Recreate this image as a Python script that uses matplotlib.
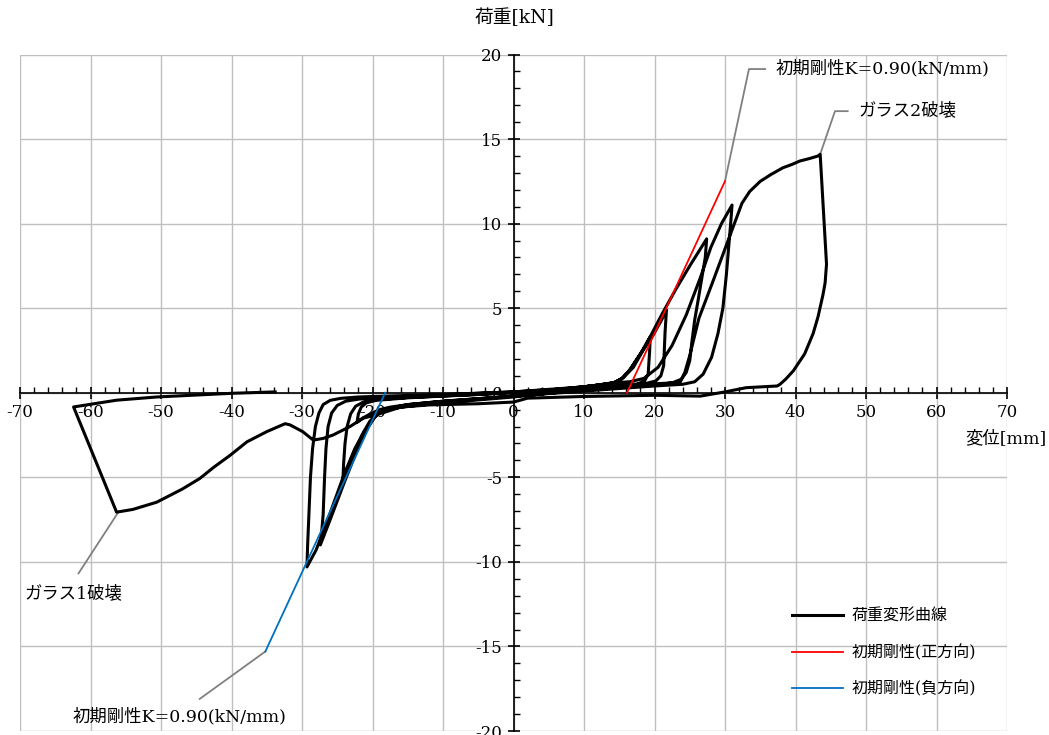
import numpy as np
import matplotlib
matplotlib.use('Agg')
import matplotlib.pyplot as plt
from matplotlib.ticker import MultipleLocator

plt.rcParams['font.family'] = ['DejaVu Serif', 'Noto Sans CJK JP']
plt.rcParams['axes.unicode_minus'] = False

# load-displacement record, split by cycle (disp [mm], load [kN])
p1_x = [0, 8, 12, 14.3, 15.6, 17.0, 18.5, 19.4, 19.3, 19.1, 18.6, 17.5, 15, 10, 0, -10, -15, -17.5]
p1_y = [0.0, 0.25, 0.45, 0.6, 0.9, 1.5, 2.6, 3.3, 2.4, 1.1, 0.7, 0.5, 0.35, 0.15, -0.2, -0.5, -0.7, -0.85]
n1_x = [-19.0, -20.3, -21.4, -22.2, -22.0, -21.6, -20.9, -19.5, -15, -10, 0, 8, 12]
n1_y = [-1.0, -1.25, -1.5, -1.75, -1.25, -0.85, -0.6, -0.45, -0.3, -0.2, 0.0, 0.25, 0.45]
p2_x = [14.3, 15.4, 16.6, 18.0, 19.8, 21.0, 21.7, 21.5, 21.3, 20.9, 20.2, 18.8, 16, 10, 0, -10, -15, -17.5]
p2_y = [0.6, 0.85, 1.4, 2.3, 3.4, 4.3, 4.9, 3.6, 1.6, 1.0, 0.7, 0.55, 0.4, 0.2, -0.25, -0.6, -0.8, -0.95]
n2_x = [-19.2, -20.4, -21.5, -22.6, -24.2, -24.1, -23.9, -23.6, -23.1, -22.4, -21.3, -20, -15, -5, 5, 11, 14]
n2_y = [-1.15, -1.7, -2.5, -3.5, -5.2, -4.2, -3.0, -2.0, -1.25, -0.8, -0.55, -0.42, -0.28, -0.1, 0.15, 0.4, 0.55]
p3_x = [15.3, 16.4, 18.0, 19.5, 21.0, 23.0, 25.0, 26.5, 27.4, 27.2, 26.2, 25.7, 25.3, 25.0, 24.5, 23.8, 22.6, 20, 15, 10,
        0, -10, -15, -17.3]
p3_y = [0.8, 1.3, 2.3, 3.4, 4.6, 6.1, 7.5, 8.5, 9.1, 8.0, 5.5, 4.3, 3.0, 1.9, 1.2, 0.8, 0.6, 0.45, 0.3, 0.15,
        -0.2, -0.55, -0.75, -0.9]
n3_x = [-18.8, -19.8, -21, -22, -24, -26, -27.4, -27.2, -27.0, -26.8, -26.6, -26.3, -25.8, -25.0, -23.8, -22, -20, -10,
        0, 10, 14.5]
n3_y = [-1.05, -1.5, -2.3, -3.2, -5.3, -7.5, -9.0, -8.2, -7.2, -5.0, -3.3, -2.0, -1.2, -0.75, -0.5, -0.38, -0.3, -0.12,
        0.05, 0.35, 0.6]
p4_x = [16.5, 18.5, 20.5, 22.5, 24.5, 26.5, 28.0, 29.5, 31.0, 30.8, 30.2, 29.7, 29.0, 28.1, 26.9, 25.7, 24, 20, 15, 10,
        0, -10, -15, -17.3]
p4_y = [0.65, 0.85, 1.5, 2.8, 4.6, 6.8, 8.6, 10.0, 11.1, 10.0, 7.0, 5.0, 3.5, 2.1, 1.1, 0.65, 0.5, 0.4, 0.25, 0.1,
        -0.2, -0.5, -0.7, -0.9]
n4_x = [-18.6, -19.6, -21, -22.5, -24, -26, -28, -29.3, -29.2, -29.0, -28.8, -28.5, -28.1, -27.6, -27.0, -26.0, -24.5,
        -22, -20, -10, 0, 10, 17, 21, 23.6]
n4_y = [-1.0, -1.4, -2.2, -3.3, -4.8, -7.1, -9.3, -10.3, -9.0, -7.0, -5.0, -3.3, -2.0, -1.2, -0.7, -0.45, -0.33,
        -0.25, -0.22, -0.1, 0.05, 0.3, 0.5, 0.55, 0.6]
p5_x = [24.3, 25.0, 26.3, 28.3, 30.7, 32.4, 33.5, 35.0, 36.5, 38.2, 39.5, 40.6, 42.0, 43.2, 43.5, 44.4, 44.2, 43.9, 43.2,
        42.5, 41.3, 39.7, 38.6, 37.8, 37.4, 33.0, 30.0, 26.5, 20, 10, 2, 0,
        -5, -12, -16, -19.4, -21.3, -23.2, -25.6, -27.0, -28.4, -29.9, -31.7, -32.4, -35.0, -37.8, -40.2, -42.5, -44.5,
        -47.0, -50.6, -54.0, -56.3, -62.4, -56.3, -50.6, -39.8, -33.8]
p5_y = [1.2, 2.2, 4.4, 6.6, 9.3, 11.2, 11.9, 12.5, 12.9, 13.3, 13.5, 13.7, 13.85, 14.0, 14.1, 7.6, 6.5, 5.8, 4.5,
        3.5, 2.3, 1.3, 0.8, 0.5, 0.4, 0.3, 0.05, -0.2, -0.15, -0.22, -0.32, -0.55,
        -0.65, -0.72, -0.85, -1.3, -1.5, -2.0, -2.5, -2.7, -2.8, -2.3, -1.9, -1.83, -2.3, -2.9, -3.7, -4.4, -5.07,
        -5.7, -6.47, -6.9, -7.06, -0.84, -0.44, -0.25, -0.03, 0.05]

stiff_k = 0.90              # kN/mm
pos_x = [16.1, 30.0]        # initial stiffness, positive direction
neg_x = [-18.2, -35.2]      # initial stiffness, negative direction

disp = np.concatenate([p1_x, n1_x, p2_x, n2_x, p3_x, n3_x, p4_x, n4_x, p5_x])
load = np.concatenate([p1_y, n1_y, p2_y, n2_y, p3_y, n3_y, p4_y, n4_y, p5_y])
pos_y = [stiff_k * (x - pos_x[0]) for x in pos_x]
neg_y = [stiff_k * (x - neg_x[0]) for x in neg_x]

fig = plt.figure(figsize=(10.49, 7.35), dpi=100)
ax = fig.add_axes([20 / 1049, 1 - 731 / 735, 987 / 1049, (731 - 54.5) / 735])
ax.set_xlim(-70, 70); ax.set_ylim(-20, 20)

for s in ['top', 'right']:
    ax.spines[s].set_visible(False)
for s in ['left', 'bottom']:
    ax.spines[s].set_position('zero'); ax.spines[s].set_linewidth(1.2)
ax.xaxis.set_major_locator(MultipleLocator(10)); ax.xaxis.set_minor_locator(MultipleLocator(2))
ax.yaxis.set_major_locator(MultipleLocator(5)); ax.yaxis.set_minor_locator(MultipleLocator(1))
ax.tick_params(which='major', direction='inout', length=8, width=1.2, labelsize=12)
ax.tick_params(which='minor', direction='in', length=4, width=1.0)
ax.tick_params(axis='y', which='major', pad=4)
ax.tick_params(axis='x', which='major', pad=4)
ax.grid(True, which='major', color='#BFBFBF', lw=1.0)

ax.plot(disp, load, color='black', lw=2.2, zorder=4, label='荷重変形曲線')
ax.plot(pos_x, pos_y, color='#FF0000', lw=1.3, zorder=5, label='初期剛性(正方向)')
ax.plot(neg_x, neg_y, color='#0070C0', lw=1.3, zorder=5, label='初期剛性(負方向)')

# leader lines and notes
gray = '#808080'
ax.plot([pos_x[1], 33.4, 35.7], [pos_y[1], 19.14, 19.14], color=gray, lw=1.3, zorder=3)
ax.plot([43.5, 45.6, 47.4], [14.1, 16.65, 16.65], color=gray, lw=1.3, zorder=3)
ax.plot([-56.05, -61.7], [-7.06, -10.68], color=gray, lw=1.3, zorder=3)
ax.plot([neg_x[1], -44.5], [neg_y[1], -18.1], color=gray, lw=1.3, zorder=3)
ax.text(37.1, 19.14, '初期剛性K=0.90(kN/mm)', fontsize=12.5, va='center', ha='left')
ax.text(48.9, 16.65, 'ガラス2破壊', fontsize=12.5, va='center', ha='left')
ax.text(-69.3, -11.9, 'ガラス1破壊', fontsize=12.5, va='center', ha='left')
ax.text(-62.6, -19.16, '初期剛性K=0.90(kN/mm)', fontsize=12.5, va='center', ha='left')

fig.text(514 / 1049, 1 - 18 / 735, '荷重[kN]', fontsize=13.5, ha='center', va='center')
fig.text(1046 / 1049, 1 - 440 / 735, '変位[mm]', fontsize=12.5, ha='right', va='center')

ax.legend(loc='upper left', bbox_to_anchor=(792 / 1049, 1 - 608 / 735), bbox_transform=fig.transFigure,
          frameon=False, fontsize=11.5, handlelength=3.2, handletextpad=0.5, labelspacing=1.2,
          borderpad=0, borderaxespad=0)

fig.savefig('out.png', dpi=100)
